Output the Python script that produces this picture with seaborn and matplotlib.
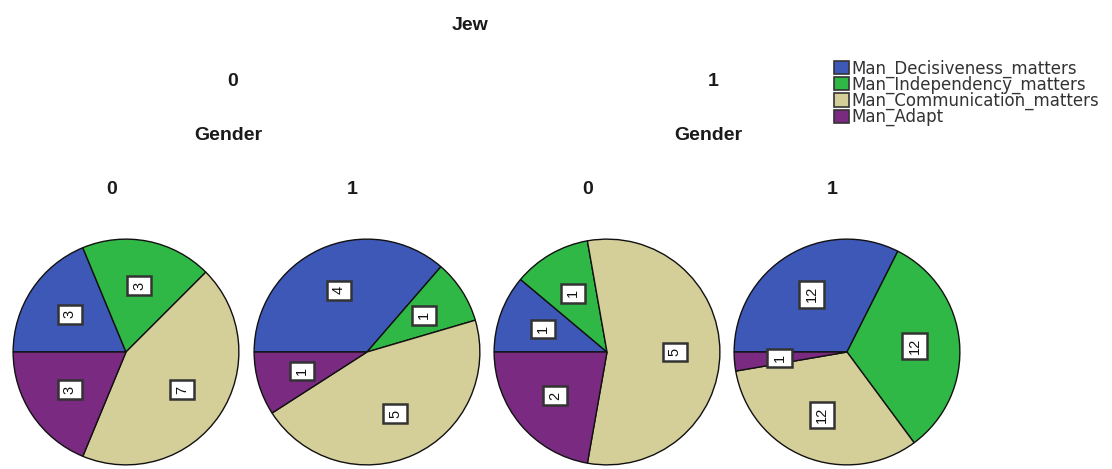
import matplotlib
matplotlib.use("Agg")
import matplotlib.pyplot as plt
from matplotlib.patches import Patch
import seaborn as sns

# Response categories and their counts per (Jew, Gender) group
categories = ["Man_Decisiveness_matters", "Man_Independency_matters",
              "Man_Communication_matters", "Man_Adapt"]
jew_levels = ["0", "1"]
gender_levels = ["0", "1"]
counts_j0_g0 = [3, 3, 7, 3]
counts_j0_g1 = [4, 1, 5, 1]
counts_j1_g0 = [1, 1, 5, 2]
counts_j1_g1 = [12, 12, 12, 1]
group_counts = [counts_j0_g0, counts_j0_g1, counts_j1_g0, counts_j1_g1]

sns.set_theme(style="white")
plt.rcParams["font.family"] = ["Liberation Sans", "DejaVu Sans"]
palette = sns.color_palette(["#3E58B8", "#2FB845", "#D4CF98", "#7B2A82"])

W, H = 1112, 469
fig = plt.figure(figsize=(W / 100, H / 100), dpi=100)
fig.patch.set_facecolor("white")


def fx(px):
    return px / W


def fy(py):
    return 1 - py / H


# Header hierarchy
head_kw = dict(fontsize=14, fontweight="bold", color="#1a1a1a", ha="center", va="center")
fig.text(fx(470), fy(26), "Jew", **head_kw)
for x, lvl in zip([233, 713], jew_levels):
    fig.text(fx(x), fy(82), lvl, **head_kw)
    fig.text(fx(x - 5), fy(135), "Gender", **head_kw)
for x, lvl in zip([112, 352, 588, 832], gender_levels * 2):
    fig.text(fx(x), fy(190), lvl, **head_kw)

# One pie per group
centers = [126, 367, 607, 847]
cy, r = 352, 114
for cx, vals in zip(centers, group_counts):
    ax = fig.add_axes([fx(cx - r), fy(cy + r), 2 * r / W, 2 * r / H])
    total = sum(vals)
    wedges, _, autotexts = ax.pie(
        vals, colors=palette, startangle=180, counterclock=False,
        autopct=lambda p, t=total: f"{round(p * t / 100)}",
        pctdistance=0.6,
        wedgeprops=dict(edgecolor="#111111", linewidth=1.0),
        textprops=dict(fontsize=10.5, color="#111111"),
    )
    for t in autotexts:
        t.set_rotation(90)
        t.set_ha("center")
        t.set_va("center")
        t.set_bbox(dict(boxstyle="square,pad=0.35", facecolor="white",
                        edgecolor="#333333", linewidth=1.8))
    ax.set_xlim(-1.01, 1.01)
    ax.set_ylim(-1.01, 1.01)
    ax.set_aspect("equal")
    ax.axis("off")

# Legend
handles = [Patch(facecolor=c, edgecolor="#333333", linewidth=1.2) for c in palette]
leg = fig.legend(handles, categories, loc="upper left",
                 bbox_to_anchor=(fx(826), fy(51)), frameon=False,
                 handlelength=0.85, handleheight=0.85,
                 handletextpad=0.15, labelspacing=-0.12, borderpad=0,
                 prop={"family": "DejaVu Sans", "size": 12})
for txt in leg.get_texts():
    txt.set_color("#333333")

fig.savefig("out.png", dpi=100, facecolor="white")
